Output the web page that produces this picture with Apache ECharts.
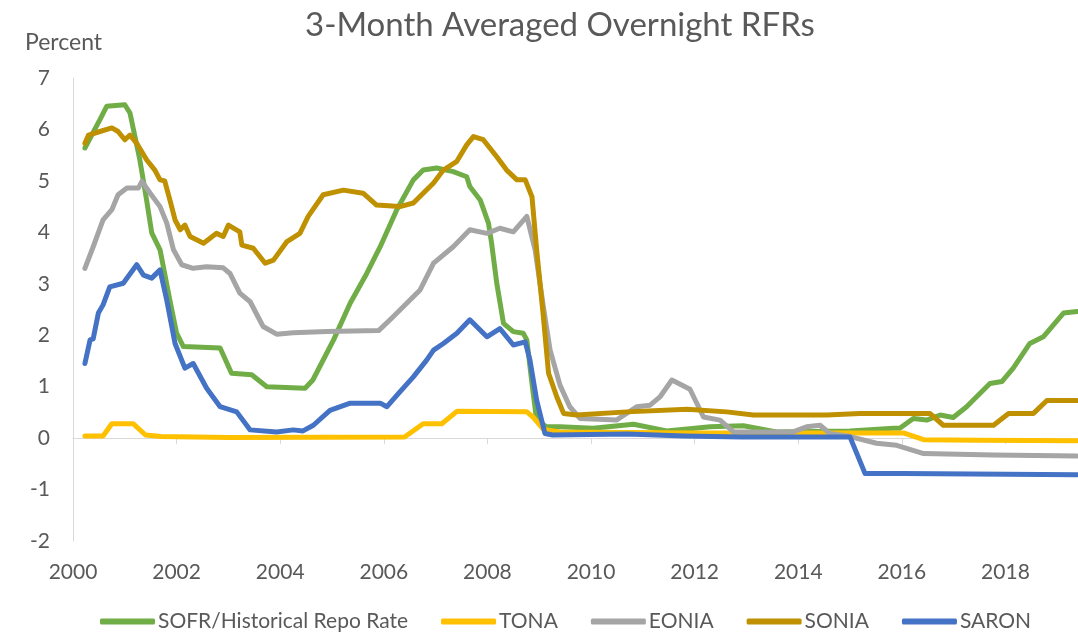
<!DOCTYPE html>
<html>
<head>
<meta charset="utf-8">
<title>3-Month Averaged Overnight RFRs</title>
<script src="https://cdn.jsdelivr.net/npm/echarts@6/dist/echarts.min.js"></script>
<style>
  html, body { margin: 0; padding: 0; background: #fff; }
  #chart { width: 1078px; height: 635px; }
</style>
</head>
<body>
<div id="chart"></div>
<script>
// [year, percent]
const sofr = [
  [2000.23, 5.64], [2000.52, 6.19], [2000.65, 6.45], [2001.0, 6.48], [2001.1, 6.32],
  [2001.29, 5.41], [2001.42, 4.63], [2001.52, 3.99], [2001.68, 3.66], [2001.87, 2.68],
  [2002.0, 2.04], [2002.13, 1.78], [2002.84, 1.75], [2003.06, 1.26], [2003.45, 1.23],
  [2003.74, 1.0], [2004.48, 0.97], [2004.63, 1.13], [2005.03, 1.91], [2005.35, 2.62],
  [2005.67, 3.2], [2005.93, 3.72], [2006.25, 4.44], [2006.57, 5.02], [2006.76, 5.21],
  [2007.02, 5.25], [2007.34, 5.18], [2007.6, 5.08], [2007.66, 4.89], [2007.86, 4.63],
  [2008.02, 4.18], [2008.08, 3.79], [2008.18, 3.01], [2008.31, 2.23], [2008.5, 2.07],
  [2008.69, 2.04], [2008.76, 1.91], [2008.86, 1.06], [2008.95, 0.35], [2009.14, 0.22],
  [2009.4, 0.22], [2010.04, 0.19], [2010.82, 0.27], [2011.46, 0.14], [2012.3, 0.22],
  [2012.94, 0.24], [2013.58, 0.12], [2015.0, 0.14], [2015.84, 0.19], [2015.96, 0.19],
  [2016.22, 0.38], [2016.48, 0.35], [2016.74, 0.45], [2016.99, 0.4], [2017.25, 0.61],
  [2017.7, 1.06], [2017.93, 1.1], [2018.15, 1.36], [2018.47, 1.84], [2018.73, 1.97],
  [2019.12, 2.43], [2019.38, 2.46]
];
const tona = [
  [2000.23, 0.04], [2000.58, 0.04], [2000.75, 0.28], [2001.16, 0.28], [2001.4, 0.06],
  [2001.7, 0.03], [2003.0, 0.01], [2006.4, 0.02], [2006.76, 0.28], [2007.12, 0.28],
  [2007.41, 0.52], [2008.76, 0.51], [2008.89, 0.4], [2009.08, 0.17], [2009.4, 0.12],
  [2012.0, 0.1], [2016.03, 0.1], [2016.42, -0.03], [2017.5, -0.04], [2019.38, -0.05]
];
const eonia = [
  [2000.23, 3.3], [2000.39, 3.72], [2000.58, 4.24], [2000.75, 4.44], [2000.87, 4.73],
  [2001.04, 4.86], [2001.26, 4.86], [2001.33, 4.99], [2001.49, 4.76], [2001.68, 4.5],
  [2001.81, 4.18], [2001.94, 3.66], [2002.1, 3.37], [2002.32, 3.3], [2002.58, 3.33],
  [2002.9, 3.31], [2003.03, 3.2], [2003.22, 2.82], [2003.42, 2.65], [2003.67, 2.17],
  [2003.93, 2.02], [2004.25, 2.05], [2004.9, 2.07], [2005.9, 2.09], [2006.18, 2.36],
  [2006.5, 2.68], [2006.7, 2.88], [2006.96, 3.4], [2007.34, 3.72], [2007.66, 4.05],
  [2007.99, 3.98], [2008.24, 4.08], [2008.5, 4.01], [2008.76, 4.31], [2008.92, 3.66],
  [2009.08, 2.55], [2009.21, 1.71], [2009.4, 1.03], [2009.59, 0.61], [2009.79, 0.38],
  [2010.49, 0.35], [2010.88, 0.61], [2011.14, 0.64], [2011.33, 0.8], [2011.56, 1.13],
  [2011.91, 0.95], [2012.17, 0.41], [2012.49, 0.35], [2012.75, 0.12], [2013.9, 0.12],
  [2014.16, 0.22], [2014.42, 0.25], [2014.61, 0.09], [2015.0, 0.03], [2015.51, -0.1],
  [2015.9, -0.14], [2016.42, -0.3], [2017.77, -0.33], [2019.38, -0.35]
];
const sonia = [
  [2000.23, 5.73], [2000.3, 5.89], [2000.52, 5.96], [2000.75, 6.03], [2000.87, 5.96],
  [2001.0, 5.8], [2001.1, 5.89], [2001.23, 5.73], [2001.42, 5.41], [2001.58, 5.21],
  [2001.68, 5.02], [2001.77, 5.0], [2001.87, 4.63], [2001.97, 4.24], [2002.07, 4.05],
  [2002.16, 4.14], [2002.26, 3.92], [2002.52, 3.79], [2002.77, 3.98], [2002.9, 3.92],
  [2003.0, 4.14], [2003.22, 4.01], [2003.26, 3.75], [2003.48, 3.69], [2003.71, 3.4],
  [2003.87, 3.46], [2004.13, 3.82], [2004.38, 3.98], [2004.54, 4.31], [2004.83, 4.73],
  [2005.22, 4.82], [2005.6, 4.76], [2005.86, 4.53], [2006.31, 4.5], [2006.57, 4.57],
  [2006.96, 4.96], [2007.15, 5.21], [2007.41, 5.38], [2007.6, 5.7], [2007.73, 5.86],
  [2007.92, 5.8], [2008.18, 5.47], [2008.37, 5.21], [2008.57, 5.02], [2008.73, 5.02],
  [2008.86, 4.69], [2008.95, 3.66], [2009.08, 2.36], [2009.18, 1.26], [2009.34, 0.8],
  [2009.47, 0.48], [2009.72, 0.45], [2010.69, 0.51], [2011.85, 0.56], [2012.62, 0.51],
  [2013.13, 0.45], [2014.55, 0.45], [2015.19, 0.48], [2016.54, 0.48], [2016.8, 0.25],
  [2017.77, 0.25], [2018.06, 0.48], [2018.54, 0.48], [2018.8, 0.73], [2019.38, 0.73]
];
const saron = [
  [2000.23, 1.45], [2000.33, 1.91], [2000.39, 1.93], [2000.49, 2.43], [2000.58, 2.59],
  [2000.71, 2.94], [2000.97, 3.01], [2001.23, 3.37], [2001.36, 3.17], [2001.52, 3.11],
  [2001.68, 3.27], [2001.81, 2.68], [2001.97, 1.84], [2002.16, 1.36], [2002.32, 1.45],
  [2002.58, 0.97], [2002.84, 0.61], [2003.16, 0.51], [2003.42, 0.16], [2003.93, 0.12],
  [2004.25, 0.16], [2004.44, 0.14], [2004.64, 0.25], [2004.96, 0.54], [2005.35, 0.68],
  [2005.93, 0.68], [2006.06, 0.61], [2006.31, 0.9], [2006.57, 1.19], [2006.83, 1.52],
  [2006.96, 1.71], [2007.15, 1.84], [2007.41, 2.04], [2007.66, 2.3], [2007.99, 1.97],
  [2008.24, 2.13], [2008.5, 1.81], [2008.73, 1.87], [2008.82, 1.52], [2008.95, 0.74],
  [2009.11, 0.09], [2009.26, 0.06], [2010.7, 0.08], [2011.8, 0.04], [2012.9, 0.02],
  [2015.0, 0.02], [2015.29, -0.69], [2016.0, -0.69], [2019.38, -0.71]
];

const seriesNames = ["SOFR/Historical Repo Rate", "TONA", "EONIA", "SONIA", "SARON"];
const seriesData = [sofr, tona, eonia, sonia, saron];
const colors = ["#70AD47", "#FFC000", "#A5A5A5", "#BF9000", "#4472C4"];

const font = "Lato, 'Open Sans', sans-serif";
const textColor = "#595959";

const chart = echarts.init(document.getElementById("chart"));

const option = {
  animation: false,
  color: colors,
  title: {
    text: "3-Month Averaged Overnight RFRs",
    left: 300,
    top: 4,
    textStyle: { fontFamily: font, fontSize: 33, fontWeight: "normal", color: textColor },
  },
  graphic: [
    {
      type: "text",
      left: 25,
      top: 31,
      style: { text: "Percent", fontFamily: font, fontSize: 23, fill: textColor },
    },
  ],
  legend: {
    data: seriesNames,
    left: 100,
    top: 611,
    padding: 0,
    itemGap: 33,
    itemWidth: 55,
    itemHeight: 6,
    icon: "roundRect",
    textStyle: { fontFamily: font, fontSize: 21, color: textColor, padding: [0, 0, 0, -2] },
  },
  grid: { left: 73, right: 0, top: 78, bottom: 94 },
  xAxis: {
    type: "value",
    min: 2000,
    max: 2019.4,
    interval: 2,
    axisLine: { show: true, lineStyle: { color: "#D9D9D9", width: 1 } },
    axisTick: { show: true, length: 6, lineStyle: { color: "#D9D9D9" } },
    axisLabel: {
      fontFamily: font, fontSize: 21, color: textColor, margin: 21,
      showMaxLabel: false,
      formatter: (v) => String(Math.round(v)),
    },
    splitLine: { show: false },
  },
  yAxis: {
    type: "value",
    min: -2,
    max: 7,
    interval: 1,
    axisLine: { show: true, onZero: false, lineStyle: { color: "#D9D9D9", width: 1 } },
    axisTick: { show: false },
    axisLabel: { fontFamily: font, fontSize: 21, color: textColor, margin: 23 },
    splitLine: { show: false },
  },
  series: seriesNames.map((name, i) => ({
    name: name,
    type: "line",
    data: seriesData[i],
    showSymbol: false,
    smooth: false,
    lineStyle: { width: 5, cap: "round", join: "round" },
    emphasis: { disabled: true },
  })),
};

chart.setOption(option);
</script>
</body>
</html>
